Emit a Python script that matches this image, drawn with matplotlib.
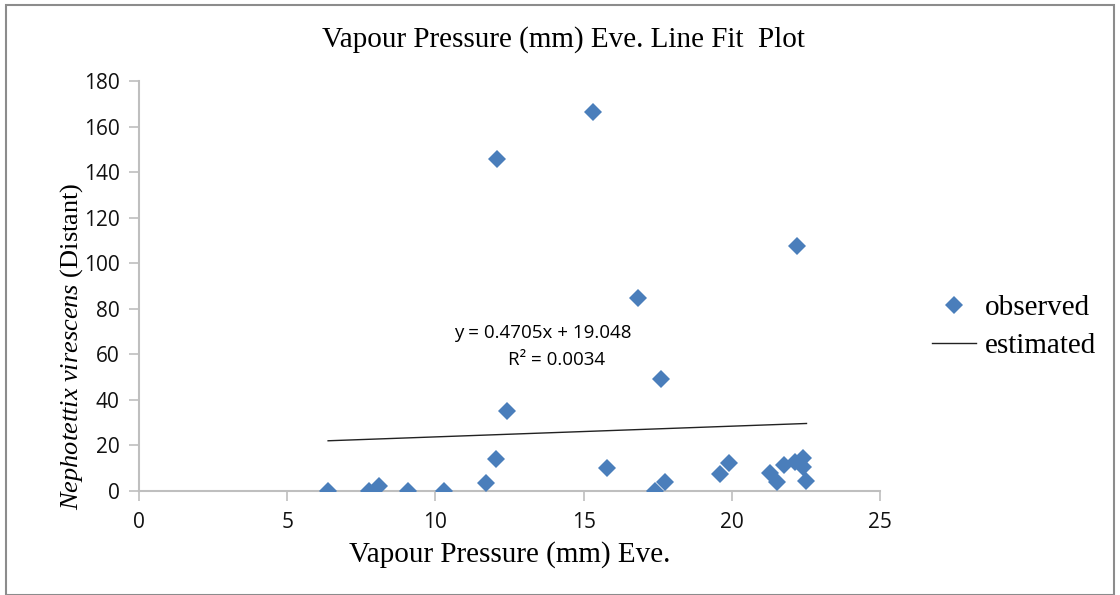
import numpy as np
import matplotlib.pyplot as plt
from matplotlib.patches import Rectangle

# Vapour pressure (mm) evening vs N. virescens counts
vapour = [6.38, 7.76, 8.10, 9.09, 10.28, 11.70, 12.05, 12.09, 12.40, 15.31,
          15.78, 16.82, 17.41, 17.60, 17.75, 19.60, 19.91, 21.29, 21.51, 21.76,
          22.13, 22.19, 22.39, 22.41, 22.52]
counts = [0.0, 0.0, 2.3, 0.0, 0.0, 3.6, 13.9, 145.6, 35.3, 166.5,
          10.2, 84.9, 0.0, 49.3, 3.8, 7.5, 12.4, 7.8, 4.1, 11.4,
          12.9, 107.7, 14.4, 10.7, 4.4]

# trend line as given on the chart
slope = 0.4705
intercept = 19.048
r2 = 0.0034

xticks = [0, 5, 10, 15, 20, 25]
yticks = [0, 20, 40, 60, 80, 100, 120, 140, 160, 180]

plt.rcParams['mathtext.fontset'] = 'custom'
plt.rcParams['mathtext.rm'] = 'Liberation Serif'
plt.rcParams['mathtext.it'] = 'Liberation Serif:italic'

fig = plt.figure(figsize=(11.2, 5.95), dpi=100)
ax = fig.add_axes([139/1120, 1-491/595, (880-139)/1120, (491-81)/595])

blue = '#4A7EBB'
grey = '#BFBFBF'

ax.plot(vapour, counts, linestyle='none', marker='D', markersize=9.5,
        color=blue, markeredgewidth=0, label='observed', zorder=3)

xs = np.array([min(vapour), max(vapour)])
ax.plot(xs, slope*xs + intercept, color='#222222', lw=1.0, label='estimated', zorder=2)

ax.set_xlim(0, 25)
ax.set_ylim(0, 180)
ax.set_xticks(xticks)
ax.set_yticks(yticks)
for s in ['top', 'right']:
    ax.spines[s].set_visible(False)
for s in ['left', 'bottom']:
    ax.spines[s].set_color(grey)
    ax.spines[s].set_linewidth(1.5)
ax.tick_params(colors=grey, length=7, width=1.2, direction='out', labelcolor='#111111')
for lab in ax.get_xticklabels() + ax.get_yticklabels():
    lab.set_fontfamily('Open Sans')
    lab.set_fontsize(15)
ax.tick_params(axis='x', pad=8)
ax.tick_params(axis='y', pad=7)

fig.text(563/1120, 1-40/595, 'Vapour Pressure (mm) Eve. Line Fit  Plot',
         fontfamily='Liberation Serif', fontsize=21, ha='center', va='center')
fig.text(510/1120, 1-555/595, 'Vapour Pressure (mm) Eve.', fontfamily='Liberation Serif',
         fontsize=21, ha='center', va='center')
fig.text(72/1120, 1-346/595, r'$\it{Nephotettix\ virescens}$ (Distant)',
         fontfamily='Liberation Serif', fontsize=19, rotation=90, ha='center', va='center')

fig.text(543/1120, 1-333/595, 'y = %.4fx + %.3f' % (slope, intercept),
         fontfamily='Open Sans', fontsize=13.5, ha='center', va='center')
fig.text(557/1120, 1-360/595, 'R\u00b2 = %.4f' % r2,
         fontfamily='Open Sans', fontsize=13.5, ha='center', va='center')

leg = ax.legend(loc='center left', bbox_to_anchor=(932/1120, 1-327/595),
                bbox_transform=fig.transFigure, frameon=False, handlelength=1.5,
                handletextpad=0.3, labelspacing=0.4, borderpad=0, borderaxespad=0,
                prop={'family': 'Liberation Serif', 'size': 21})

fig.patches.append(Rectangle((6/1120, 0), 1108/1120, 1-5/595, transform=fig.transFigure,
                             fill=False, edgecolor='#8C8C8C', lw=1.5))

fig.savefig('out.png', dpi=100)
